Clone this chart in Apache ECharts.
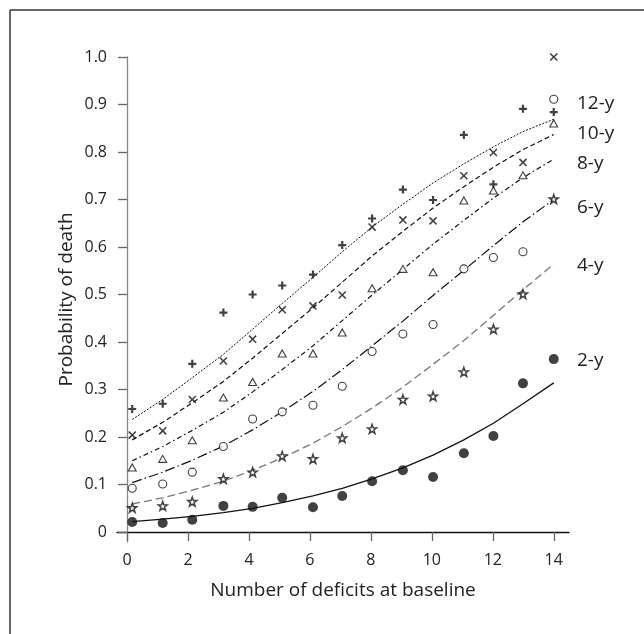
<!DOCTYPE html>
<html>
<head>
<meta charset="utf-8">
<script src="https://cdn.jsdelivr.net/npm/echarts@6/dist/echarts.min.js"></script>
<style>
  html, body { margin: 0; padding: 0; background: #fff; }
  #chart { width: 644px; height: 634px; }
</style>
</head>
<body>
<div id="chart"></div>
<script>
// x positions of the points (number of deficits, as plotted)
var xPos = [0.17, 1.17, 2.14, 3.16, 4.12, 5.09, 6.1, 7.06, 8.04, 9.05, 10.04, 11.05, 12.02, 12.99, 14.0];

// observed probabilities
var obs12 = [0.259, 0.270, 0.354, 0.462, 0.500, 0.519, 0.542, 0.604, 0.660, 0.721, 0.699, 0.836, 0.732, 0.891, 0.884];
var obs10 = [0.204, 0.213, 0.279, 0.360, 0.406, 0.468, 0.476, 0.499, 0.642, 0.657, 0.655, 0.750, 0.799, 0.778, 1.0];
var obs8  = [0.136, 0.154, 0.193, 0.283, 0.316, 0.376, 0.376, 0.420, 0.513, 0.554, 0.547, 0.698, 0.719, 0.751, 0.860];
var obs6  = [0.092, 0.101, 0.126, 0.180, 0.238, 0.253, 0.267, 0.307, 0.380, 0.417, 0.437, 0.554, 0.578, 0.590, 0.911];
var obs4  = [0.051, 0.055, 0.064, 0.112, 0.126, 0.160, 0.154, 0.198, 0.217, 0.279, 0.286, 0.337, 0.427, 0.501, 0.701];
var obs2  = [0.021, 0.019, 0.026, 0.055, 0.053, 0.072, 0.052, 0.076, 0.107, 0.130, 0.116, 0.166, 0.202, 0.313, 0.364];

// fitted curves
var fit12 = [0.237, 0.279, 0.325, 0.374, 0.427, 0.481, 0.536, 0.590, 0.642, 0.690, 0.735, 0.775, 0.811, 0.843, 0.869];
var fit10 = [0.194, 0.231, 0.272, 0.317, 0.366, 0.418, 0.472, 0.526, 0.581, 0.633, 0.682, 0.727, 0.768, 0.805, 0.837];
var fit8  = [0.150, 0.180, 0.214, 0.252, 0.295, 0.342, 0.392, 0.445, 0.499, 0.553, 0.606, 0.656, 0.703, 0.746, 0.785];
var fit6  = [0.104, 0.126, 0.151, 0.181, 0.215, 0.253, 0.296, 0.342, 0.392, 0.444, 0.498, 0.551, 0.603, 0.653, 0.700];
var fit4  = [0.059, 0.072, 0.088, 0.107, 0.130, 0.156, 0.187, 0.222, 0.261, 0.305, 0.353, 0.403, 0.456, 0.510, 0.564];
var fit2  = [0.022, 0.027, 0.033, 0.041, 0.050, 0.062, 0.076, 0.092, 0.112, 0.135, 0.162, 0.194, 0.229, 0.270, 0.314];

var xTicks = [0, 2, 4, 6, 8, 10, 12, 14];
var yTicks = [0, 0.1, 0.2, 0.3, 0.4, 0.5, 0.6, 0.7, 0.8, 0.9, 1.0];
var groupLabels = ['12-y', '10-y', '8-y', '6-y', '4-y', '2-y'];

var FONT = "'Open Sans', 'Noto Sans', sans-serif";

function pairs(ys) {
  return ys.map(function (y, i) { return [xPos[i], y]; });
}

var plusPath = 'path://M-1.1,-4L1.1,-4L1.1,-1.1L4,-1.1L4,1.1L1.1,1.1L1.1,4L-1.1,4L-1.1,1.1L-4,1.1L-4,-1.1L-1.1,-1.1Z';
var crossPath = 'path://M-0.7,-4.5L0.7,-4.5L0.7,-0.7L4.5,-0.7L4.5,0.7L0.7,0.7L0.7,4.5L-0.7,4.5L-0.7,0.7L-4.5,0.7L-4.5,-0.7L-0.7,-0.7Z';
var starPath = 'path://M0,-10L2.35,-3.24L9.51,-3.09L3.8,1.24L5.88,8.09L0,4L-5.88,8.09L-3.8,1.24L-9.51,-3.09L-2.35,-3.24Z';

function fitLine(ys, color, type, width) {
  return {
    type: 'line',
    data: pairs(ys),
    showSymbol: false,
    silent: true,
    z: 2,
    lineStyle: { color: color, width: width, type: type }
  };
}

function markers(ys, symbol, size, style, rotate) {
  return {
    type: 'scatter',
    data: pairs(ys),
    symbol: symbol,
    symbolSize: size,
    symbolRotate: rotate || 0,
    z: 5,
    itemStyle: style
  };
}

function groupText(i, top) {
  return {
    type: 'text', left: 577, top: top,
    style: { text: groupLabels[i], fontSize: 19, fill: '#222', fontFamily: FONT }
  };
}

var chart = echarts.init(document.getElementById('chart'));

var option = {
  backgroundColor: '#fff',
  animation: false,
  textStyle: { fontFamily: FONT },
  grid: { left: 117, right: 75, top: 57, bottom: 92 },
  xAxis: {
    type: 'value',
    min: -0.33,
    max: 14.5,
    name: 'Number of deficits at baseline',
    nameLocation: 'middle',
    nameGap: 39,
    nameMoveOverlap: false,
    nameTextStyle: { fontSize: 19, color: '#222', fontFamily: FONT },
    axisLine: { onZero: true, lineStyle: { color: '#111', width: 1.3 } },
    axisTick: { show: true, length: 9, customValues: xTicks, lineStyle: { color: '#666', width: 1.3 } },
    axisLabel: { customValues: xTicks, margin: 10, fontSize: 16, color: '#222', fontFamily: FONT },
    splitLine: { show: false }
  },
  yAxis: {
    type: 'value',
    min: -0.021,
    max: 1.0,
    name: 'Probability of death',
    nameLocation: 'middle',
    nameGap: 41,
    nameRotate: 90,
    nameMoveOverlap: false,
    nameTextStyle: { fontSize: 19, color: '#222', fontFamily: FONT },
    axisLine: { onZero: true, lineStyle: { color: '#888', width: 1.3 } },
    axisTick: { show: true, length: 9, customValues: yTicks, lineStyle: { color: '#666', width: 1.3 } },
    axisLabel: {
      customValues: yTicks,
      margin: 10,
      fontSize: 16,
      color: '#222',
      fontFamily: FONT,
      formatter: function (v) { return v === 0 ? '0' : v.toFixed(1); }
    },
    splitLine: { show: false }
  },
  series: [
    fitLine(fit12, '#111', [2, 1.5], 1),
    fitLine(fit10, '#111', [5, 3], 1.2),
    fitLine(fit8, '#111', [5, 3, 1.5, 3], 1.2),
    fitLine(fit6, '#111', [10, 3, 1.5, 3], 1.2),
    fitLine(fit4, '#777', [8, 4], 1.3),
    fitLine(fit2, '#111', 'solid', 1.3),
    markers(obs12, plusPath, 8, { color: '#111' }),
    markers(obs10, crossPath, 10, { color: '#111' }, 45),
    markers(obs8, 'triangle', [8, 7], { color: '#fff', borderColor: '#111', borderWidth: 1.1 }),
    markers(obs6, 'circle', 8, { color: '#fff', borderColor: '#111', borderWidth: 1.1 }),
    markers(obs4, starPath, 9, { color: '#fff', borderColor: '#111', borderWidth: 1.5 }),
    markers(obs2, 'circle', 10, { color: '#111' })
  ],
  graphic: [
    { type: 'line', shape: { x1: 10, y1: 10, x2: 644, y2: 10 }, style: { stroke: '#333', lineWidth: 1.5 } },
    { type: 'line', shape: { x1: 10, y1: 10, x2: 10, y2: 634 }, style: { stroke: '#333', lineWidth: 1.5 } },
    groupText(0, 94),
    groupText(1, 124),
    groupText(2, 154),
    groupText(3, 198),
    groupText(4, 256),
    groupText(5, 351)
  ]
};

chart.setOption(option);
</script>
</body>
</html>
